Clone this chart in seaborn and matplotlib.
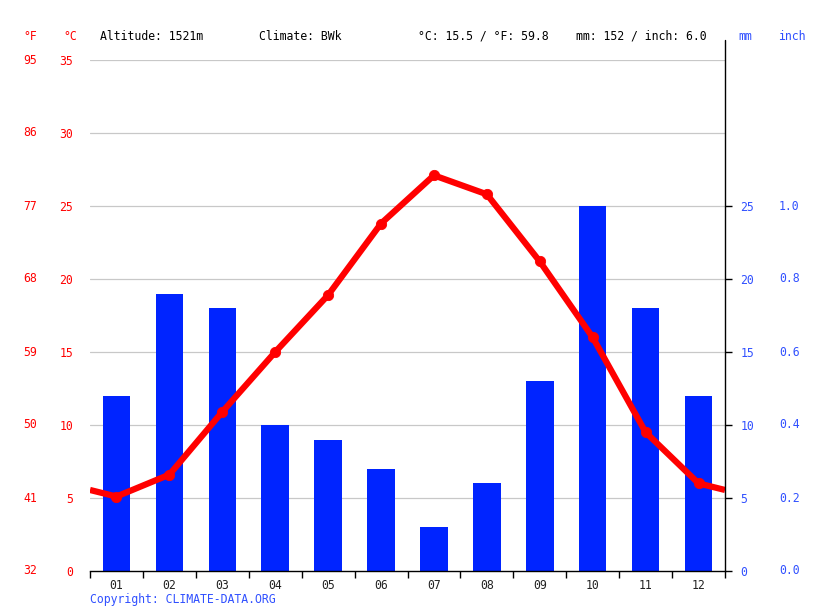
import matplotlib
matplotlib.use("Agg")
import matplotlib.pyplot as plt
import matplotlib.transforms as mtrans
import numpy as np
import pandas as pd
import seaborn as sns

months = ["01", "02", "03", "04", "05", "06", "07", "08", "09", "10", "11", "12"]
temp_c = [5.1, 6.6, 10.9, 15.0, 18.9, 23.8, 27.1, 25.8, 21.2, 16.0, 9.5, 6.0]
precip_mm = [12, 19, 18, 10, 9, 7, 3, 6, 13, 25, 18, 12]
c_ticks = [0, 5, 10, 15, 20, 25, 30, 35]
f_labels = ["32", "41", "50", "59", "68", "77", "86", "95"]
mm_ticks = [0, 5, 10, 15, 20, 25]
inch_labels = ["0.0", "0.2", "0.4", "0.6", "0.8", "1.0"]

RED = "#ff0000"
BLUE = "#0024ff"
LBLUE = "#3050ff"
FONT = "DejaVu Sans Mono"
FS = 8.3

sns.set_style("white")
plt.rcParams["font.family"] = [FONT, "DejaVu Sans"]

W, H = 815, 611
fig = plt.figure(figsize=(W / 100, H / 100), dpi=100)
L, R, B, T = 90, 725, 571, 60
ax = fig.add_axes([L / W, 1 - B / H, (R - L) / W, (B - T) / H])

df = pd.DataFrame({"month": months, "mm": precip_mm, "x": np.arange(12), "t": temp_c})
sns.barplot(data=df, x="month", y="mm", color=BLUE, saturation=1, width=0.52, ax=ax,
            zorder=2, linewidth=0, edgecolor=BLUE)

# temperature line extended to plot edges (half-month ends average of Dec/Jan)
edge = (temp_c[0] + temp_c[-1]) / 2
ext = pd.DataFrame({"x": [-0.5] + list(range(12)) + [11.5], "t": [edge] + temp_c + [edge]})
sns.lineplot(data=ext, x="x", y="t", color=RED, lw=4.5, ax=ax, zorder=4, solid_capstyle="butt")
sns.scatterplot(data=df, x="x", y="t", color=RED, s=55, edgecolor=RED, ax=ax, zorder=5)

ax.set_xlim(-0.5, 11.5)
ax.set_ylim(0, 35)
ax.set_xlabel("")
ax.set_ylabel("")
for y in c_ticks[1:]:
    ax.axhline(y, color="#c8c8c8", lw=0.9, zorder=1)

for s in ["top", "left"]:
    ax.spines[s].set_visible(False)
ax.spines["right"].set_visible(False)
ax.spines["bottom"].set_color("black")
ax.spines["bottom"].set_linewidth(1.0)

ax.set_xticks(range(12))
ax.set_xticklabels(months, fontsize=FS, color="#222222", family=FONT)
ax.set_xticks(np.arange(-0.5, 12, 1), minor=True)
ax.tick_params(axis="x", which="major", length=0, pad=6)
ax.tick_params(axis="x", which="minor", length=5, width=1, color="black", direction="out", bottom=True)

ax.set_yticks(c_ticks)
ax.set_yticklabels([str(v) for v in c_ticks], fontsize=FS, color=RED, family=FONT)
ax.tick_params(axis="y", which="major", length=0, pad=12)

# Fahrenheit labels
tr = mtrans.blended_transform_factory(fig.transFigure, ax.transData)
for v, lab in zip(c_ticks, f_labels):
    fig.text(37 / W, v, lab, transform=tr, ha="right", va="center", fontsize=FS, color=RED, family=FONT)

# right axis
ax2 = ax.twinx()
ax2.set_ylim(0, 35)
ax2.set_yticks(mm_ticks)
ax2.set_yticklabels([str(v) for v in mm_ticks], fontsize=FS, color=LBLUE, family=FONT)
ax2.tick_params(axis="y", length=5, width=1, color="black", pad=6, direction="out")
for s in ["top", "left", "bottom", "right"]:
    ax2.spines[s].set_visible(False)
ax2.grid(False)
for v, lab in zip(mm_ticks, inch_labels):
    fig.text(779 / W, v, lab, transform=tr, ha="left", va="center", fontsize=FS, color=LBLUE, family=FONT)

# right spine extended upward
fig.add_artist(plt.Line2D([R / W, R / W], [1 - B / H, 1 - 40 / H], color="black", lw=1.0))

# header
hy = 1 - 36 / H
fig.text(30 / W, hy, "°F", ha="center", va="center", fontsize=FS, color=RED, family=FONT)
fig.text(70 / W, hy, "°C", ha="center", va="center", fontsize=FS, color=RED, family=FONT)
fig.text(100 / W, hy, "Altitude: 1521m", ha="left", va="center", fontsize=FS, color="black", family=FONT)
fig.text(259 / W, hy, "Climate: BWk", ha="left", va="center", fontsize=FS, color="black", family=FONT)
fig.text(418 / W, hy, "°C: 15.5 / °F: 59.8", ha="left", va="center", fontsize=FS, color="black", family=FONT)
fig.text(576 / W, hy, "mm: 152 / inch: 6.0", ha="left", va="center", fontsize=FS, color="black", family=FONT)
fig.text(745 / W, hy, "mm", ha="center", va="center", fontsize=FS, color=LBLUE, family=FONT)
fig.text(792 / W, hy, "inch", ha="center", va="center", fontsize=FS, color=LBLUE, family=FONT)
fig.text(90 / W, 1 - 599 / H, "Copyright: CLIMATE-DATA.ORG", ha="left", va="center", fontsize=FS, color=LBLUE, family=FONT)

fig.savefig("out.png", dpi=100)
